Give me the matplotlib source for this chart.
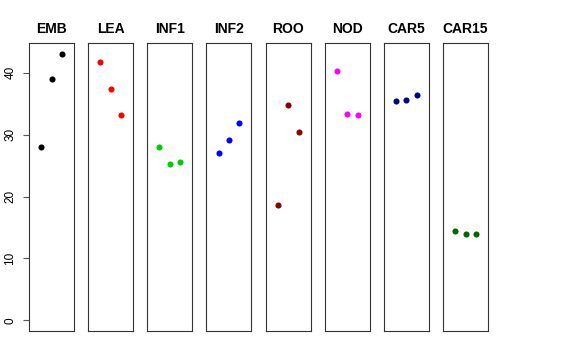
import numpy as np
import matplotlib
matplotlib.use("Agg")
import matplotlib.pyplot as plt

plt.rcParams['font.family'] = ['Liberation Sans', 'DejaVu Sans']

groups = ["EMB", "LEA", "INF1", "INF2", "ROO", "NOD", "CAR5", "CAR15"]
colors = ["black", "red", "#00CD00", "blue", "#8B0000", "magenta", "#00008B", "#006400"]
values = [
    [28.0, 39.0, 43.1],
    [41.7, 37.4, 33.1],
    [28.0, 25.2, 25.6],
    [27.0, 29.2, 31.8],
    [18.7, 34.8, 30.4],
    [40.2, 33.3, 33.1],
    [35.4, 35.6, 36.4],
    [14.5, 14.0, 14.0],
]
yticks = [0, 10, 20, 30, 40]

W, H = 576, 360
fig = plt.figure(figsize=(W / 100, H / 100), dpi=100)

top, bottom = 43, 331
for i, (name, col, vals) in enumerate(zip(groups, colors, values)):
    left = 29 + i * 59.15
    ax = fig.add_axes([left / W, (H - bottom) / H, 45 / W, (bottom - top) / H])
    ax.plot([1, 2, 3], vals, 'o', color=col, markersize=4.4, markeredgewidth=0)
    ax.set_xlim(-0.16, 4.16)
    ax.set_ylim(-1.73, 44.8)
    ax.set_xticks([])
    ax.set_title(name, fontsize=10, fontweight='bold', pad=7)
    for s in ax.spines.values():
        s.set_linewidth(0.8)
        s.set_color('#333333')
    if i == 0:
        ax.set_yticks(yticks)
        ax.set_yticklabels([str(t) for t in yticks], rotation=90, va='center', fontsize=8.5)
        ax.tick_params(axis='y', length=4, width=0.8, color='#555555', pad=5)
    else:
        ax.set_yticks([])

fig.savefig("out.png", dpi=100)
